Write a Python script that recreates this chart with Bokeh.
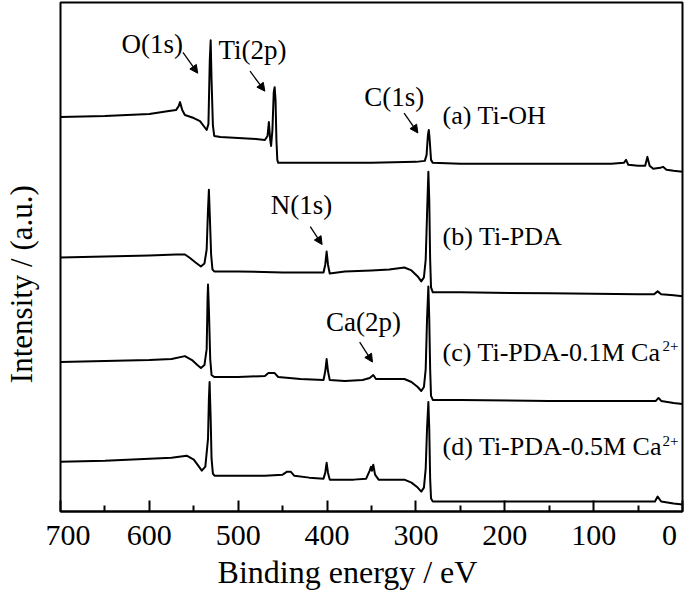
import math
from bokeh.plotting import figure
from bokeh.models import Range1d, FixedTicker, Label, Arrow, NormalHead
from bokeh.embed import file_html
from bokeh.resources import INLINE

# ---------------- data (binding energy in eV, intensity in a.u. incl. stacking offset) ----------
energy_a = [700, 650, 600, 578, 570, 567, 565.5, 563, 560, 550, 543, 538, 535.5, 533.5, 532, 531,
            530, 528.5, 527, 520, 500, 480, 470, 467, 465.5, 464, 463, 461.5, 460, 459, 458, 457,
            456, 455, 420, 350, 300, 290, 288, 286.5, 285.5, 284.5, 283, 281, 250, 150, 80, 66,
            63.5, 61, 50, 42, 39.5, 37, 33, 25, 22, 18, 10, 0]
intensity_a = [396, 397, 399, 402, 403, 407, 411, 403, 398, 395, 392, 386, 383, 389, 453, 473,
               433, 388, 377, 376, 375, 374, 373, 377, 391, 373, 367, 383, 421, 426, 413, 373,
               353, 350, 350, 350, 351, 352, 358, 378, 383, 373, 353, 350, 349, 349, 349, 350,
               353, 348, 347, 347, 356, 347, 344, 345, 346, 343, 342, 341]

energy_b = [700, 650, 600, 570, 560, 555, 548, 542, 538, 535.5, 534, 533, 532, 530.5, 529, 527,
            500, 450, 410, 404, 402, 400.5, 399, 397, 380, 350, 330, 313, 305, 298, 294, 291,
            289, 287.5, 286, 285, 284, 283, 281, 250, 150, 50, 32, 28, 24, 10, 0]
intensity_b = [255, 256, 257, 258, 258, 255, 250, 246, 249, 263, 303, 323, 298, 258, 243, 241,
               241, 240, 240, 240, 248, 261, 248, 239, 241, 242, 243, 245, 242, 236, 231, 235,
               253, 298, 341, 313, 253, 225, 220, 220, 219, 218, 218, 221, 218, 217, 216]

energy_c = [700, 650, 600, 575, 560, 552, 546, 542, 538, 535.5, 534.5, 534, 533, 531.5, 530, 527,
            500, 470, 466, 459, 455, 430, 404, 402, 400.5, 399, 397, 380, 360, 352, 348, 345,
            320, 313, 305, 298, 294, 291, 289, 287.5, 286, 285, 284, 283, 281, 250, 150, 50, 30,
            27, 24, 10, 0]
intensity_c = [150, 151, 152, 153, 156, 152, 147, 144, 147, 163, 213, 228, 203, 153, 137, 135,
               135, 136, 139, 139, 135, 133, 132, 141, 153, 141, 132, 131, 132, 134, 137, 133,
               133, 133, 130, 125, 121, 125, 143, 193, 226, 193, 143, 116, 112, 112, 111, 111, 111,
               114, 111, 109, 108]

energy_d = [700, 650, 600, 575, 558, 550, 545, 541, 537, 534, 533, 532.2, 531, 530, 528.5, 526.7,
            500, 470, 450, 445, 441, 437, 420, 404, 402, 400.5, 399, 397, 370, 356, 352, 350.5,
            349.5, 348, 346, 342, 320, 313, 305, 298, 294, 291, 289, 287.5, 286, 285, 284, 283,
            281, 250, 150, 50, 31, 28, 24, 10, 0]
intensity_d = [50, 51, 53, 54, 56, 52, 46, 41, 45, 73, 113, 130, 93, 53, 38, 36,
               36, 36, 37, 40, 40, 36, 34, 33, 39, 49, 39, 32, 32, 33, 41, 45,
               41, 47, 37, 32, 32, 32, 29, 24, 20, 24, 43, 83, 110, 83, 33, 13,
               10, 10, 10, 10, 10, 15, 10, 8, 7]

tick_values = [700, 600, 500, 400, 300, 200, 100, 0]
minor_tick_values = [650, 550, 450, 350, 250, 150, 50]

sample_labels = ["(a) Ti-OH", "(b) Ti-PDA", "(c) Ti-PDA-0.1M Ca", "(d) Ti-PDA-0.5M Ca"]
sample_superscripts = ["", "", "2+", "2+"]
peak_labels = ["O(1s)", "Ti(2p)", "C(1s)", "N(1s)", "Ca(2p)"]

x_title = "Binding energy / eV"
y_title = "Intensity / (a.u.)"

# ---------------- layout / styling ----------------
FONT = "Liberation Serif"
NB = "\u00a0"

p = figure(width=684, height=592, output_backend="svg", toolbar_location=None,
           x_range=Range1d(700, 0), y_range=Range1d(0, 511),
           min_border_left=60, min_border_right=2, min_border_top=2, min_border_bottom=70)
p.background_fill_color = "white"
p.border_fill_color = "white"
p.outline_line_color = "black"
p.outline_line_width = 2
p.grid.visible = False

# x axis
ax = p.xaxis[0]
ax.ticker = FixedTicker(ticks=tick_values, minor_ticks=minor_tick_values)
overrides = {v: str(v) for v in tick_values}
overrides[700] = NB * 2 + "700"
overrides[0] = "0" + NB
ax.major_label_overrides = overrides
ax.axis_line_width = 2
ax.major_tick_in = 11
ax.major_tick_out = 0
ax.minor_tick_in = 6
ax.minor_tick_out = 0
ax.major_tick_line_width = 2
ax.minor_tick_line_width = 2
ax.major_label_text_font = FONT
ax.major_label_text_font_size = "30px"
ax.major_label_text_color = "black"
ax.major_label_standoff = 6
ax.axis_label = x_title + NB * 6
ax.axis_label_text_font = FONT
ax.axis_label_text_font_size = "32px"
ax.axis_label_text_font_style = "normal"
ax.axis_label_text_color = "black"
ax.axis_label_standoff = 0

# y axis: title only
ay = p.yaxis[0]
ay.ticker = FixedTicker(ticks=[])
ay.axis_line_color = None
ay.major_tick_line_color = None
ay.minor_tick_line_color = None
ay.major_tick_out = 0
ay.minor_tick_out = 0
ay.major_tick_in = 0
ay.minor_tick_in = 0
ay.major_label_standoff = 0
ay.major_label_text_font_size = "0px"
ay.axis_label = y_title + NB * 7
ay.axis_label_text_font = FONT
ay.axis_label_text_font_size = "31px"
ay.axis_label_text_font_style = "normal"
ay.axis_label_text_color = "black"
ay.axis_label_standoff = 22

for xs, ys in [(energy_a, intensity_a), (energy_b, intensity_b),
               (energy_c, intensity_c), (energy_d, intensity_d)]:
    p.line(xs, ys, line_color="black", line_width=2, line_join="round")

# sample labels
label_pos = [(270, 398), (270, 276), (270, 160), (270, 65)]
sup_pos = [None, None, (22.5, 166), (22.5, 71)]
for txt, sup, (lx, ly), sp in zip(sample_labels, sample_superscripts, label_pos, sup_pos):
    p.add_layout(Label(x=lx, y=ly, text=txt, text_font=FONT, text_font_size="26px",
                       text_align="left", text_baseline="middle", text_color="black"))
    if sup:
        p.add_layout(Label(x=sp[0], y=sp[1], text=sup, text_font=FONT, text_font_size="15px",
                           text_align="left", text_baseline="middle", text_color="black"))

# peak annotations
peak_pos = [(596.7, 469), (483.9, 463), (324.4, 416), (428.9, 308), (358.9, 190)]
arrow_pos = [(562.2, 461, 545.6, 440), (486.7, 442, 470.0, 422), (313.3, 400, 297.8, 380),
             (418.9, 286, 405.6, 268), (363.3, 170, 348.9, 150)]
for txt, (lx, ly), (x0, y0, x1, y1) in zip(peak_labels, peak_pos, arrow_pos):
    p.add_layout(Label(x=lx, y=ly, text=txt, text_font=FONT, text_font_size="27px",
                       text_align="center", text_baseline="middle", text_color="black"))
    p.add_layout(Arrow(end=NormalHead(size=8, fill_color="black", line_color="black", line_width=1),
                       x_start=x0, y_start=y0, x_end=x1, y_end=y1,
                       line_color="black", line_width=1.3))

open("out.html", "w").write(file_html(p, INLINE))
